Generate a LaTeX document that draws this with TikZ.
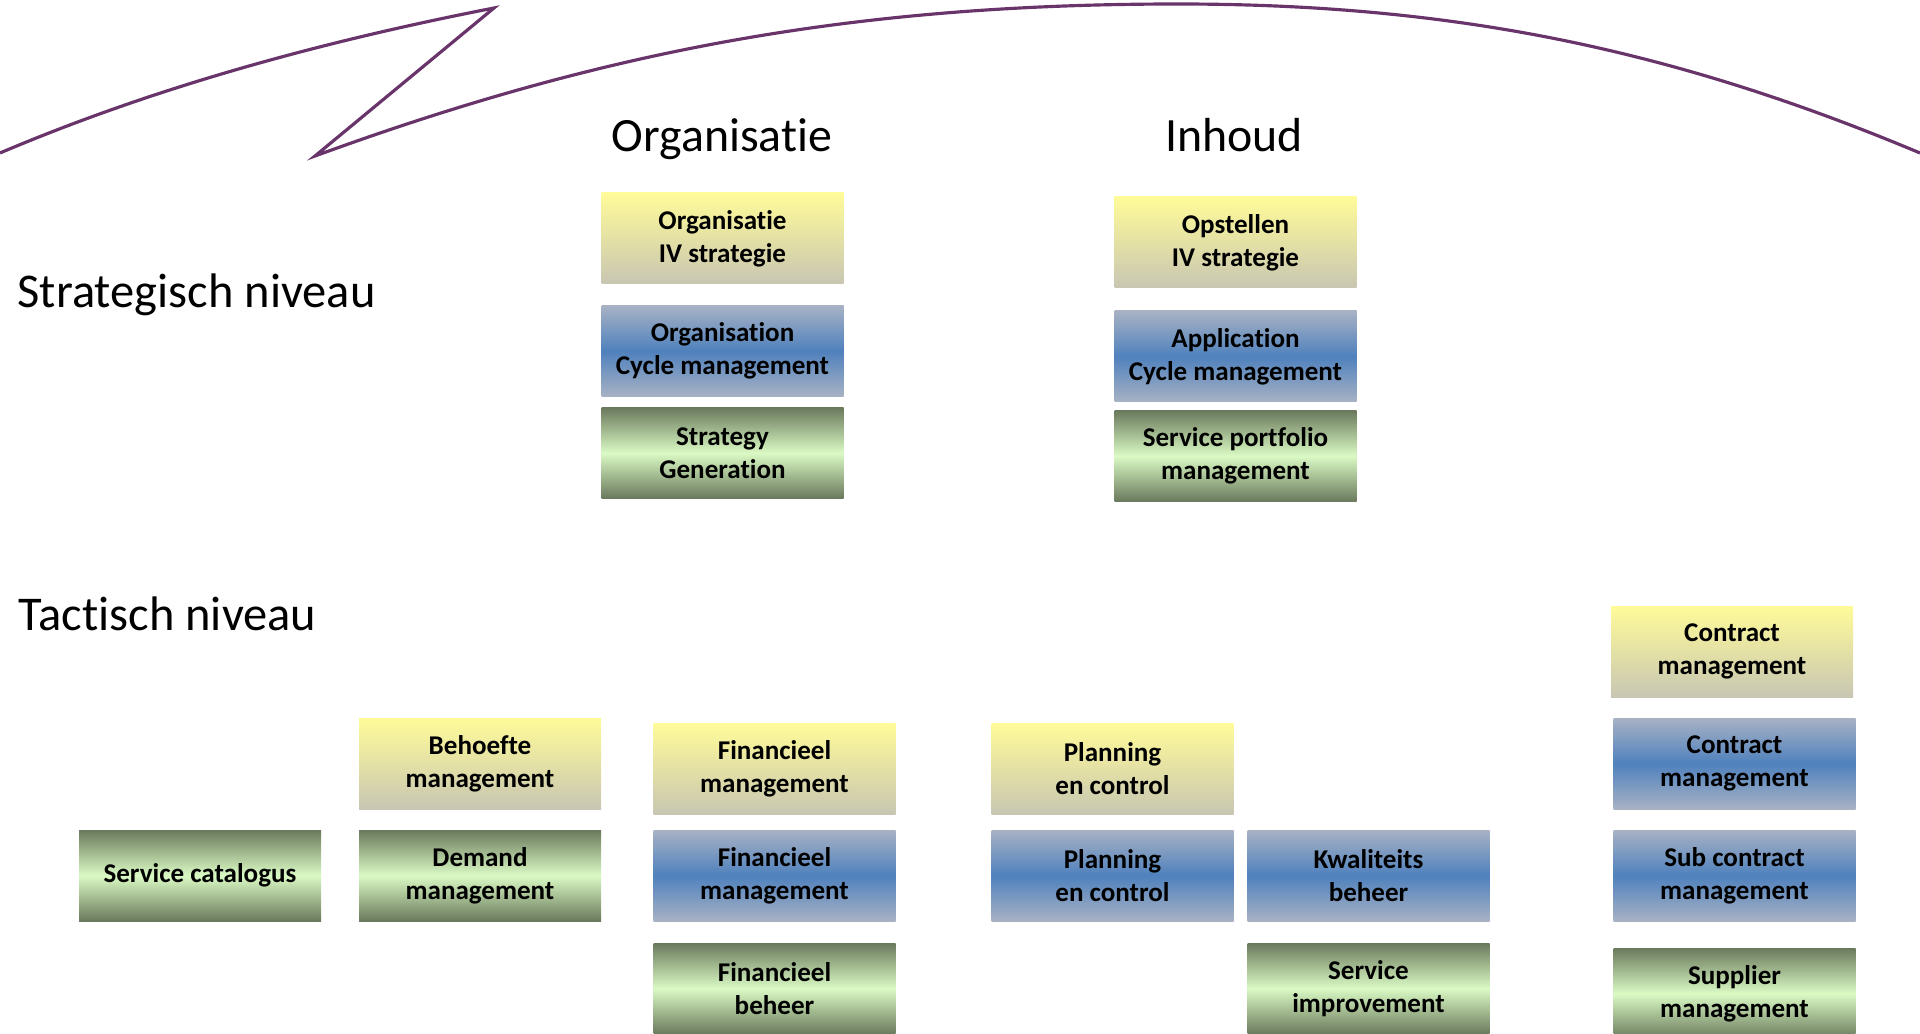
\documentclass[tikz,border=0pt]{standalone}
\usepackage{fontspec}
\setmainfont{Carlito}[Ligatures=NoCommon]
\usepackage{xcolor}
\usepackage{tikz}
\usetikzlibrary{positioning}

\definecolor{arcpurple}{RGB}{104,52,106}
\definecolor{yeltop}{RGB}{255,251,153}
\definecolor{yelbot}{RGB}{200,198,178}
\definecolor{blueedge}{RGB}{168,178,196}
\definecolor{bluemid}{RGB}{79,129,189}
\definecolor{grnedge}{RGB}{106,121,92}
\definecolor{grnmid}{RGB}{218,250,196}

\begin{document}
\begin{tikzpicture}[scale=1.0,
                    proc/.style={minimum width=2.42cm, minimum height=0.91cm, inner sep=0pt,
                                 align=center, font=\fontsize{7.7}{9.4}\selectfont\bfseries,
                                 execute at begin node={\vspace*{1.6pt}}},
                    yelbox/.style={proc, top color=yeltop, bottom color=yelbot},
                    bluebox/.style={proc, top color=blueedge, bottom color=blueedge, middle color=bluemid},
                    grnbox/.style={proc, top color=grnedge, bottom color=grnedge, middle color=grnmid},
                    level/.style={anchor=base west, inner sep=0pt, font=\fontsize{13.8}{16}\selectfont},
                    column/.style={anchor=base, inner sep=0pt, font=\fontsize{13.6}{16}\selectfont},
                    zigzag/.style={line width=0.9pt, arcpurple},
                   ]

\useasboundingbox (0,0) rectangle (19.2,-10.34);
\clip (0,0) rectangle (19.2,-10.34);

\coordinate (tip) at (4.94,-0.08);
\coordinate (notch) at (3.15,-1.56);
\coordinate (top) at (11.78,-0.04);

\draw[zigzag] (0,-1.53) .. controls (1.60,-0.85) and (3.30,-0.40) .. (tip) -- (notch)
      .. controls (6.00,-0.52) and (8.48,-0.04) .. (top)
      .. controls (14.50,-0.04) and (16.70,-0.48) .. (19.20,-1.53);

% headings
\node[column] (hOrg) at (7.22,-1.52) {Organisatie};
\node[column] (hInh) at (12.34,-1.52) {Inhoud};
\node[level] (hStrat) at (0.17,-3.08) {Strategisch niveau};
\node[level] (hTact) at (0.18,-6.30) {Tactisch niveau};

% strategisch
\node[yelbox] (orgstrat) at (7.225,-2.385) {Organisatie\\IV strategie};
\node[bluebox] (orgcycle) at (7.225,-3.51) {Organisation\\Cycle management};
\node[grnbox] (stratgen) at (7.225,-4.53) {Strategy\\Generation};

\node[yelbox] (opstellen) at (12.355,-2.425) {Opstellen\\IV strategie};
\node[bluebox] (appcycle) at (12.355,-3.565) {Application\\Cycle management};
\node[grnbox] (portfolio) at (12.355,-4.56) {Service portfolio\\management};

% tactisch
\node[grnbox] (catalogus) at (2.00,-8.755) {Service catalogus};

\node[yelbox] (behoefte) at (4.80,-7.635) {Behoefte\\management};
\node[grnbox] (demand) at (4.80,-8.755) {Demand\\management};

\node[yelbox] (finyel) at (7.745,-7.69) {Financieel\\management};
\node[bluebox] (finblue) at (7.745,-8.755) {Financieel\\management};
\node[grnbox] (finbeheer) at (7.745,-9.885) {Financieel\\beheer};

\node[yelbox] (planyel) at (11.125,-7.69) {Planning\\en control};
\node[bluebox] (planblue) at (11.125,-8.755) {Planning\\en control};

\node[bluebox] (kwaliteit) at (13.685,-8.755) {Kwaliteits\\beheer};
\node[grnbox] (improvement) at (13.685,-9.885) {Service\\improvement};

\node[yelbox] (contractyel) at (17.32,-6.515) {Contract\\management};
\node[bluebox] (contractblue) at (17.345,-7.635) {Contract\\management};
\node[bluebox] (subcontract) at (17.345,-8.755) {Sub contract\\management};
\node[grnbox] (supplier) at (17.345,-9.935) {Supplier\\management};

\end{tikzpicture}
\end{document}
